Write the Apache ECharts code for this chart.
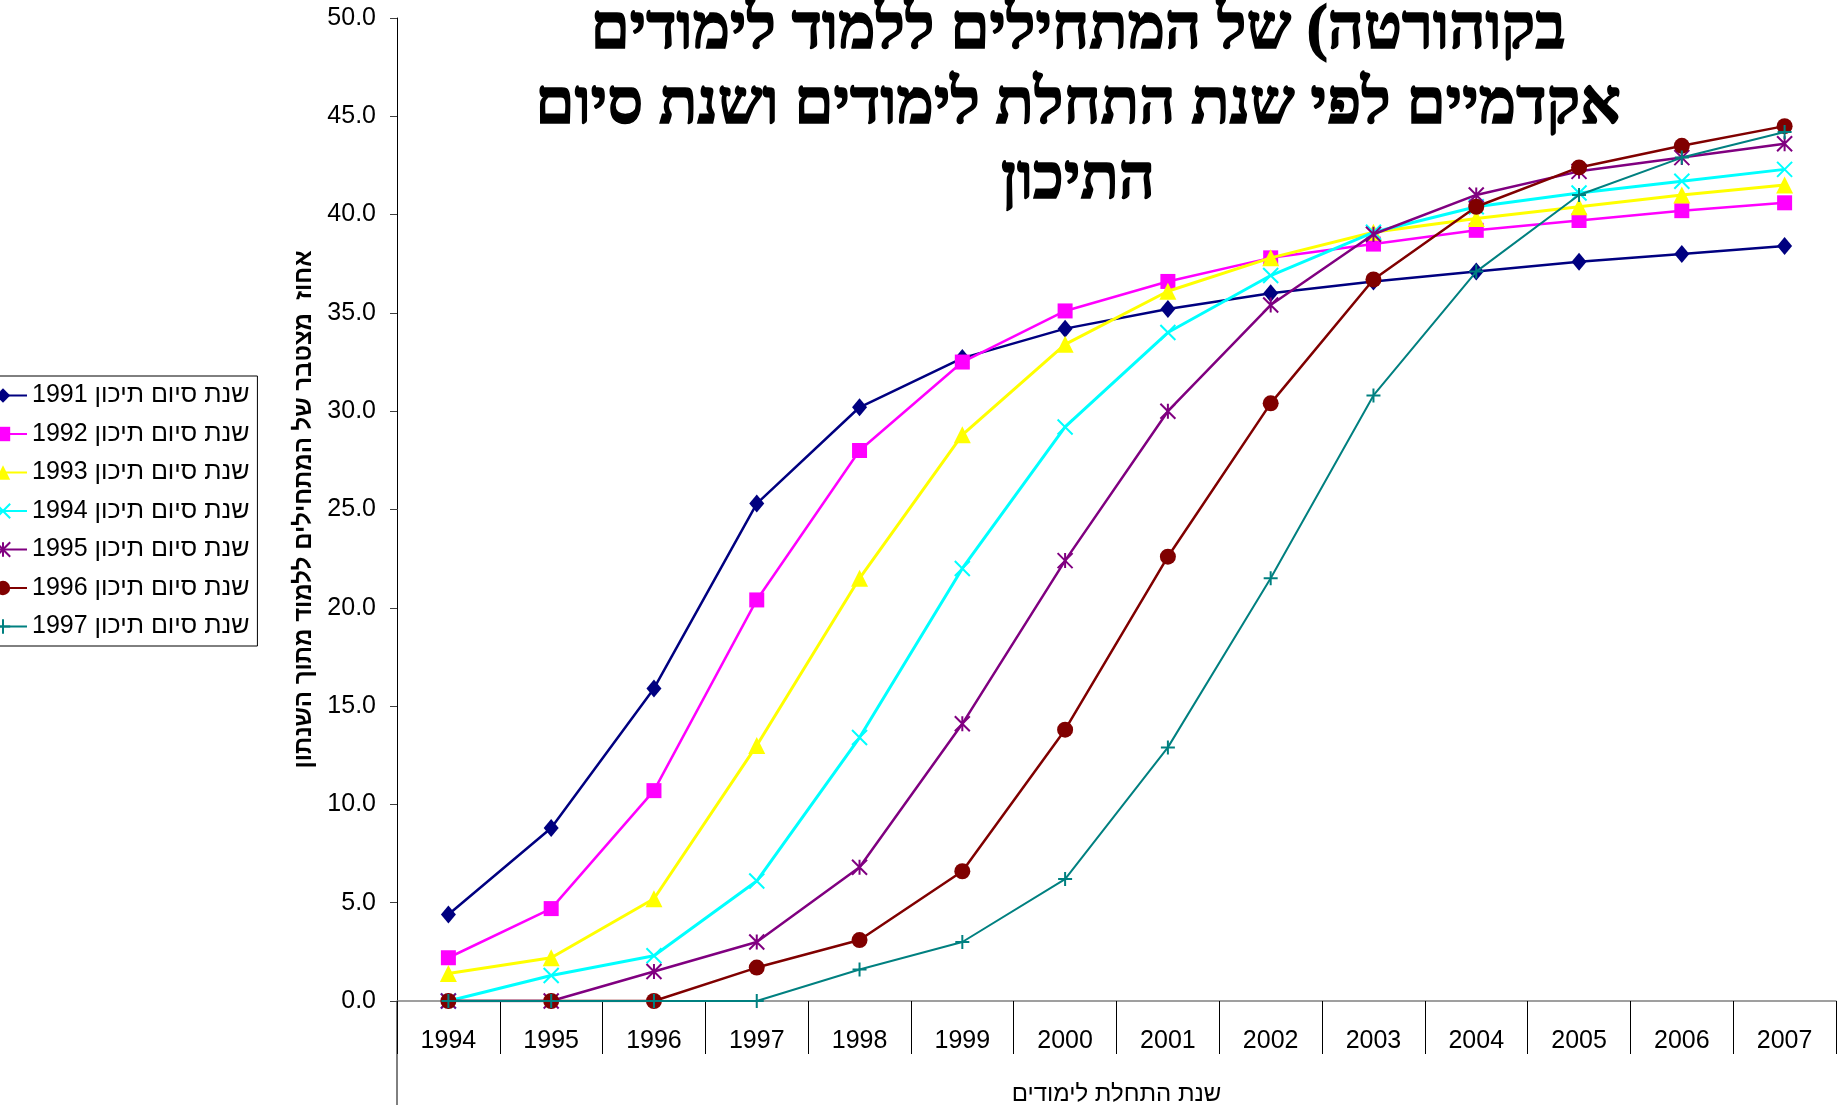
<!DOCTYPE html>
<html>
<head>
<meta charset="utf-8">
<script src="https://cdn.jsdelivr.net/npm/echarts@6/dist/echarts.min.js"></script>
<style>
html,body{margin:0;padding:0;background:#fff;}
#chart{width:1843px;height:1105px;}
</style>
</head>
<body>
<div id="chart" dir="rtl"></div>
<script>
const categories = ['1994','1995','1996','1997','1998','1999','2000','2001','2002','2003','2004','2005','2006','2007'];
const seriesNames = ['שנת סיום תיכון 1991','שנת סיום תיכון 1992','שנת סיום תיכון 1993','שנת סיום תיכון 1994','שנת סיום תיכון 1995','שנת סיום תיכון 1996','שנת סיום תיכון 1997'];
const grad1991 = [4.4, 8.8, 15.9, 25.3, 30.2, 32.7, 34.2, 35.2, 36.0, 36.6, 37.1, 37.6, 38.0, 38.4];
const grad1992 = [2.2, 4.7, 10.7, 20.4, 28.0, 32.5, 35.1, 36.6, 37.8, 38.5, 39.2, 39.7, 40.2, 40.6];
const grad1993 = [1.4, 2.2, 5.2, 13.0, 21.5, 28.8, 33.4, 36.1, 37.8, 39.1, 39.8, 40.4, 41.0, 41.5];
const grad1994 = [0, 1.3, 2.3, 6.1, 13.4, 22.0, 29.2, 34.0, 36.9, 39.1, 40.4, 41.1, 41.7, 42.3];
const grad1995 = [0, 0, 1.5, 3.0, 6.8, 14.1, 22.4, 30.0, 35.4, 39.0, 41.0, 42.2, 42.9, 43.6];
const grad1996 = [0, 0, 0, 1.7, 3.1, 6.6, 13.8, 22.6, 30.4, 36.7, 40.4, 42.4, 43.5, 44.5];
const grad1997 = [0, 0, 0, 0, 1.6, 3.0, 6.2, 12.9, 21.5, 30.8, 37.1, 41.0, 42.9, 44.2];
const titleLines = ['בקוהורטה) של המתחילים ללמוד לימודים', 'אקדמיים לפי שנת התחלת לימודים ושנת סיום', 'התיכון'];
const yAxisTitle = 'אחוז  מצטבר של המתחילים ללמוד מתוך השנתון';
const xAxisTitle = 'שנת התחלת לימודים';

const allData = [grad1991, grad1992, grad1993, grad1994, grad1995, grad1996, grad1997];
const colors = ['#000080', '#FF00FF', '#FFFF00', '#00FFFF', '#800080', '#800000', '#008080'];
const symbols = [
  'diamond', 'rect', 'triangle',
  'path://M0,0L10,10M10,0L0,10',
  'path://M0,0L10,10M10,0L0,10M5,0L5,10',
  'circle',
  'path://M5,0L5,10M0,5L10,5'
];
const symbolSizes = [[15,18], 15, 17, 15, 15, 16, 14];
const strokeSymbols = [false, false, false, true, true, false, true];
const lineWidths = [2.5, 2.5, 3, 3, 2.5, 2.5, 2];

const GRID_LEFT = 397, GRID_TOP = 18, GRID_RIGHT = 7, GRID_BOTTOM = 104;
const FONT = 'Liberation Sans, Arial, sans-serif';

const chart = echarts.init(document.getElementById('chart'), null, {renderer: 'canvas'});
const series = allData.map((d, i) => ({
  name: seriesNames[i],
  type: 'line',
  data: d,
  symbol: symbols[i],
  symbolSize: symbolSizes[i],
  showAllSymbol: true,
  lineStyle: {color: colors[i], width: lineWidths[i]},
  itemStyle: {
    color: colors[i],
    borderColor: colors[i],
    borderWidth: strokeSymbols[i] ? 2 : 0
  },
  emphasis: {disabled: true},
  z: 2 + i
}));

chart.setOption({
  animation: false,
  backgroundColor: '#fff',
  title: {
    text: titleLines.join('\n'),
    left: 1078,
    top: -6,
    padding: 0,
    textAlign: 'center',
    textStyle: {
      fontFamily: 'Liberation Serif, serif',
      fontWeight: 'bold',
      fontSize: 63,
      lineHeight: 75,
      color: '#000',
      textBorderColor: '#000',
      textBorderWidth: 1.5
    }
  },
  legend: {
    orient: 'vertical',
    left: -32,
    top: 376,
    padding: [7, 8, 7, 10],
    itemWidth: 48,
    itemHeight: 18,
    itemGap: 13.5,
    borderColor: '#000',
    borderWidth: 1,
    textStyle: {fontFamily: FONT, fontSize: 25, color: '#000'},
    data: seriesNames
  },
  grid: {left: GRID_LEFT, top: GRID_TOP, right: GRID_RIGHT, bottom: GRID_BOTTOM, containLabel: false, outerBoundsMode: 'none'},
  xAxis: {
    type: 'category',
    data: categories,
    boundaryGap: true,
    name: xAxisTitle,
    nameLocation: 'middle',
    nameGap: 81,
    nameTextStyle: {fontFamily: FONT, fontSize: 24, color: '#000'},
    axisLine: {lineStyle: {color: '#808080', width: 1.5}},
    axisTick: {show: true, interval: 0, length: 53, lineStyle: {color: '#000', width: 1}},
    axisLabel: {interval: 0, margin: 28, fontFamily: FONT, fontSize: 25, color: '#000'},
    splitLine: {show: false}
  },
  yAxis: {
    type: 'value',
    min: 0,
    max: 50,
    interval: 5,
    name: yAxisTitle,
    nameLocation: 'middle',
    nameGap: 81,
    nameTextStyle: {fontFamily: FONT, fontSize: 24, fontWeight: 'bold', color: '#000'},
    axisLine: {show: true, lineStyle: {color: '#000', width: 1}},
    axisTick: {show: true, length: 7, lineStyle: {color: '#404040', width: 1}},
    axisLabel: {margin: 21, fontFamily: FONT, fontSize: 25, color: '#000', formatter: v => v.toFixed(1)},
    splitLine: {show: false}
  },
  graphic: [{
    type: 'line',
    shape: {x1: GRID_LEFT, y1: 1105 - GRID_BOTTOM, x2: GRID_LEFT, y2: 1105},
    style: {stroke: '#000', lineWidth: 1},
    silent: true
  }],
  series: series
});
</script>
</body>
</html>
